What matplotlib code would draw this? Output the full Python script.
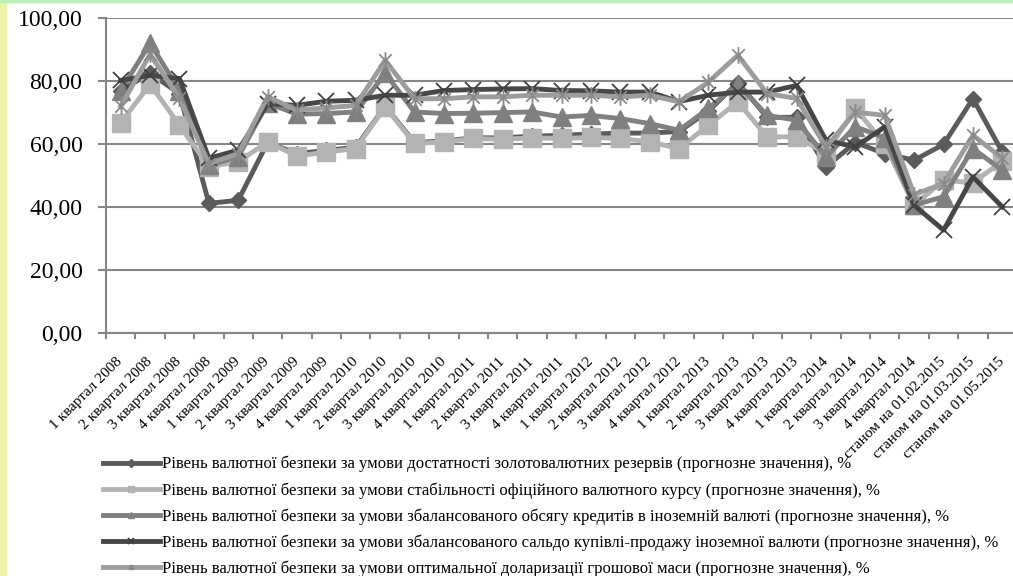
import matplotlib
matplotlib.use("Agg")
import matplotlib.pyplot as plt
from matplotlib.lines import Line2D
from matplotlib.patches import Rectangle
from matplotlib.path import Path
from matplotlib import font_manager
import numpy as np

available = {f.name for f in font_manager.fontManager.ttflist}
serif_choice = None
for cand in ['Liberation Serif', 'Tinos', 'Times New Roman', 'DejaVu Serif', 'Noto Serif', 'FreeSerif']:
    if cand in available:
        serif_choice = cand
        break
if serif_choice is None:
    serif_choice = 'DejaVu Sans'
plt.rcParams['font.family'] = [serif_choice, 'DejaVu Sans']

categories = [
    "1 квартал 2008", "2 квартал 2008", "3 квартал 2008", "4 квартал 2008",
    "1 квартал 2009", "2 квартал 2009", "3 квартал 2009", "4 квартал 2009",
    "1 квартал 2010", "2 квартал 2010", "3 квартал 2010", "4 квартал 2010",
    "1 квартал 2011", "2 квартал 2011", "3 квартал 2011", "4 квартал 2011",
    "1 квартал 2012", "2 квартал 2012", "3 квартал 2012", "4 квартал 2012",
    "1 квартал 2013", "2 квартал 2013", "3 квартал 2013", "4 квартал 2013",
    "1 квартал 2014", "2 квартал 2014", "3 квартал 2014", "4 квартал 2014",
    "станом на 01.02.2015", "станом на 01.03.2015", "станом на 01.05.2015",
]

reserves = [77, 82.5, 76, 41.2, 42.2, 60.5, 57, 58, 59, 72, 60.5, 61, 62, 62, 62.5, 62.8,
            63.2, 63.5, 63.5, 64, 70.5, 79.5, 68.5, 68.5, 52.8, 60.5, 57, 54.9, 59.9, 74.4, 57.5]
exchange_rate = [66.7, 79, 66, 52.8, 54.4, 60.7, 56.2, 57.5, 58.6, 71.8, 60.2, 60.7, 61.8, 61.5, 62, 61.8,
                 62.1, 61.8, 60.7, 58.6, 66, 73.4, 62.3, 62.3, 57, 71.3, 60, 40.6, 48.5, 47.8, 54.5]
credits = [77, 92, 77, 53.3, 56, 73, 69.5, 69.7, 70.2, 82.4, 70.2, 69.7, 69.8, 70, 70.2, 68.6,
           69.1, 68.1, 66.5, 64.4, 71.3, 79, 69.1, 67.6, 56, 65.5, 62, 40.7, 43.3, 58.6, 51.7]
balance = [80.2, 81.8, 80.8, 55.5, 58.1, 72.8, 72.3, 73.6, 73.9, 75.5, 75.5, 77, 77.3, 77.5, 77.6, 77,
           76.9, 76.5, 76.5, 73.5, 75.5, 76.5, 76.5, 78.6, 61.2, 59.1, 65.5, 40.6, 32.7, 49.6, 40.1]
dollarization = [72, 88.5, 74.5, 53.8, 57, 75, 70.8, 71.5, 72.3, 86.6, 74.4, 74.4, 75, 75, 75.5, 75.5,
                 75.5, 75, 75.5, 73.4, 79.7, 88.2, 76, 74.5, 59, 70.2, 69.1, 44, 47.5, 62.8, 55.5]

legend_labels = [
    "Рівень валютної безпеки за умови достатності золотовалютних резервів (прогнозне значення), %",
    "Рівень валютної безпеки за умови стабільності офіційного валютного курсу (прогнозне значення), %",
    "Рівень валютної безпеки за умови збалансованого обсягу кредитів в іноземній валюті (прогнозне значення), %",
    "Рівень валютної безпеки за умови збалансованого сальдо купівлі-продажу іноземної валюти (прогнозне значення), %",
    "Рівень валютної безпеки за умови оптимальної доларизації грошової маси (прогнозне значення), %",
]

y_ticks = [0, 20, 40, 60, 80, 100]

# asterisk marker: vertical line plus X
ast = Path([(0, -1), (0, 1), (-0.75, -0.75), (0.75, 0.75), (-0.75, 0.75), (0.75, -0.75)],
           [Path.MOVETO, Path.LINETO, Path.MOVETO, Path.LINETO, Path.MOVETO, Path.LINETO])

W, H = 1013, 576
fig = plt.figure(figsize=(W / 100, H / 100), dpi=100)
fig.patches.append(Rectangle((0, 0), 6 / W, 1, transform=fig.transFigure, color='#ecf3a8', zorder=-1))
fig.patches.append(Rectangle((0, 1 - 2 / H), 1, 2 / H, transform=fig.transFigure, color='#bdf0b8', zorder=-1))

ax = fig.add_axes([106 / W, (H - 333.3) / H, 911 / W, 315.3 / H])
x = np.arange(len(categories))

styles = [
    dict(color='#5b5b5b', marker='D', ms=8, mec='#5b5b5b', mfc='#5b5b5b', mew=1),
    dict(color='#b3b3b3', marker='s', ms=13, mec='#b3b3b3', mfc='#b3b3b3', mew=1),
    dict(color='#808080', marker='^', ms=13, mec='#808080', mfc='#808080', mew=1),
    dict(color='#474747', marker='x', ms=11, mec='#404040', mew=1.3),
    dict(color='#9d9d9d', marker=ast, ms=12, mec='#8a8a8a', mew=1.3),
]
series = [reserves, exchange_rate, credits, balance, dollarization]
for i, (vals, st) in enumerate(zip(series, styles)):
    ax.plot(x, vals, lw=3.5, zorder=3 + i, clip_on=True, **st)

ax.set_xlim(-0.5, len(categories) - 0.5)
ax.set_ylim(0, 100)
ax.set_yticks(y_ticks)
ax.set_yticklabels([f"{v:.2f}".replace('.', ',') for v in y_ticks], fontsize=17)
ax.tick_params(axis='y', length=6, width=1.5, color='#868686', pad=11)
ax.grid(axis='y', color='#868686', lw=1.5)
ax.set_axisbelow(True)

ax.set_xticks(np.arange(len(categories) + 1) - 0.5)
ax.set_xticklabels([])
ax.set_xticks(x, minor=True)
ax.set_xticklabels(categories, minor=True, rotation=45, ha='right', va='center',
                   rotation_mode='anchor', fontsize=11)
ax.tick_params(axis='x', which='major', length=4, width=1.5, color='#868686')
ax.tick_params(axis='x', which='minor', length=0, pad=19)

for s in ['top', 'right']:
    ax.spines[s].set_visible(False)
for s in ['left', 'bottom']:
    ax.spines[s].set_color('#868686')
    ax.spines[s].set_linewidth(1.5)

handles = []
for st in styles:
    st2 = dict(st)
    st2['ms'] = 4
    handles.append(Line2D([], [], lw=3.5, **st2))
fig.legend(handles, legend_labels, loc='upper left', bbox_to_anchor=(103 / W, 1 - 456 / H),
           frameon=False, fontsize=12, handlelength=3.4, handletextpad=0.15,
           labelspacing=0.58, borderpad=0, borderaxespad=0)

fig.savefig("out.png", dpi=100, facecolor='white')
